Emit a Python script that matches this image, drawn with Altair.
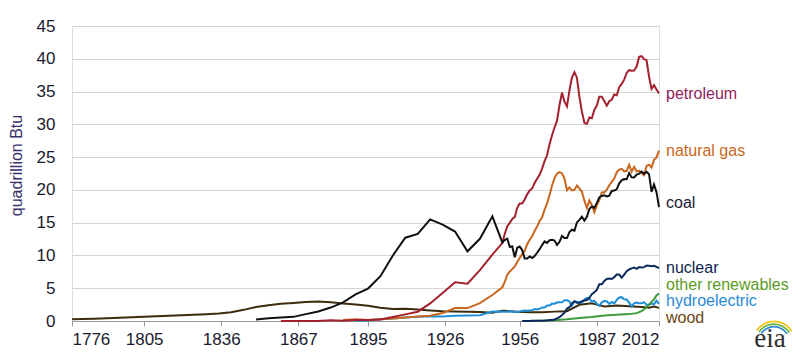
import altair as alt
import pandas as pd

# ---------------- data (quadrillion Btu) ----------------
wood_years = [1776, 1780, 1785, 1790, 1795, 1800, 1805, 1810, 1815, 1820, 1825, 1830, 1835,
              1840, 1845, 1850, 1855, 1860, 1865, 1870, 1875, 1880, 1885, 1890, 1895, 1900,
              1905, 1910, 1915, 1920, 1925, 1930, 1935, 1940, 1945, 1949, 1950, 1955, 1960,
              1965, 1970, 1975, 1980, 1985, 1990, 1995, 2000, 2005, 2008, 2010, 2012]
wood_vals = [0.25, 0.30, 0.36, 0.43, 0.50, 0.58, 0.65, 0.72, 0.80, 0.88, 0.96, 1.04, 1.14,
             1.35, 1.70, 2.14, 2.40, 2.64, 2.76, 2.89, 2.97, 2.85, 2.68, 2.52, 2.31, 2.02,
             1.84, 1.86, 1.76, 1.61, 1.50, 1.46, 1.42, 1.36, 1.26, 1.55, 1.56, 1.42, 1.32,
             1.34, 1.43, 1.50, 2.48, 2.69, 2.22, 2.37, 2.26, 2.14, 2.04, 2.20, 2.00]

coal_years = [1850, 1855, 1860, 1865, 1870, 1875, 1880, 1885, 1890, 1895, 1900, 1905, 1910,
              1915, 1920, 1925, 1930, 1935, 1940, 1945] + list(range(1949, 2013))
coal_vals = [0.22, 0.42, 0.52, 0.63, 1.05, 1.44, 2.05, 2.84, 4.06, 4.95, 6.84, 10.00, 12.71,
             13.29, 15.50, 14.71, 13.64, 10.63, 12.54, 15.97,
             11.98, 12.35, 12.55, 11.31, 11.37, 9.72, 11.17, 11.35, 10.82, 9.53, 9.52,
             9.84, 9.62, 9.91, 10.41, 10.96, 11.58, 12.14, 11.91, 12.33, 12.38, 12.27,
             11.60, 12.08, 12.97, 12.66, 12.66, 13.58, 13.92, 13.77, 15.04, 15.42, 15.91,
             15.32, 15.89, 17.07, 17.48, 17.26, 18.01, 18.85, 19.07, 19.17, 18.99, 19.12,
             19.84, 19.91, 20.09, 21.00, 21.45, 21.66, 21.62, 22.58, 21.91, 21.90, 22.32,
             22.47, 22.80, 22.45, 22.75, 22.39, 19.69, 20.83, 19.66, 17.38]

petroleum_years = [1860, 1865, 1870, 1875, 1880, 1885, 1890, 1895, 1900, 1905, 1910, 1915,
                   1920, 1925, 1930, 1935, 1940, 1945] + list(range(1949, 2013))
petroleum_vals = [0.00, 0.01, 0.01, 0.01, 0.10, 0.04, 0.16, 0.17, 0.23, 0.61, 1.01, 1.42,
                  2.68, 4.28, 5.90, 5.68, 7.76, 10.11,
                  11.88, 13.32, 14.43, 14.96, 15.56, 15.84, 17.26, 17.94, 17.93, 18.53, 19.32,
                  19.92, 20.22, 21.05, 21.70, 22.30, 23.25, 24.40, 25.28, 26.98, 28.34, 29.52,
                  30.56, 32.95, 34.84, 33.46, 32.73, 35.18, 37.12, 37.97, 37.12, 34.20, 31.93,
                  30.23, 30.05, 31.05, 30.92, 32.20, 32.87, 34.22, 34.21, 33.55, 32.85, 33.53,
                  33.75, 34.56, 34.44, 35.68, 36.16, 36.82, 37.84, 38.26, 38.19, 38.22, 38.81,
                  40.29, 40.39, 39.96, 39.77, 37.28, 35.40, 35.97, 35.30, 34.70]

gas_years = [1885, 1890, 1895, 1900, 1905, 1910, 1915, 1920, 1925, 1930, 1935, 1940,
             1945] + list(range(1949, 2013))
gas_vals = [0.14, 0.26, 0.15, 0.25, 0.37, 0.54, 0.67, 0.81, 1.21, 1.97, 1.97, 2.73, 3.97,
            5.15, 5.97, 7.05, 7.55, 7.91, 8.33, 9.00, 9.61, 10.19, 10.66, 11.72, 12.39,
            12.93, 13.73, 14.40, 15.29, 15.77, 17.00, 17.95, 19.21, 20.68, 21.80, 22.47,
            22.70, 22.51, 21.73, 19.95, 20.35, 19.93, 20.00, 20.67, 20.24, 19.75, 18.36,
            17.22, 18.39, 17.70, 16.59, 17.64, 18.45, 19.60, 19.60, 20.03, 20.71, 21.23,
            21.73, 22.67, 23.09, 23.22, 22.83, 22.91, 23.82, 22.77, 23.51, 22.83, 22.92,
            22.57, 22.24, 23.66, 23.84, 23.42, 24.58, 24.96, 26.00]

hydro_years = [1890, 1895, 1900, 1905, 1910, 1915, 1920, 1925, 1930, 1935, 1940,
               1945] + list(range(1949, 2013))
hydro_vals = [0.02, 0.09, 0.25, 0.39, 0.54, 0.66, 0.74, 0.67, 0.79, 0.83, 0.88, 1.44,
              1.43, 1.42, 1.42, 1.47, 1.41, 1.36, 1.36, 1.44, 1.52, 1.59, 1.55, 1.61, 1.66,
              1.82, 1.77, 1.89, 2.06, 2.06, 2.35, 2.35, 2.65, 2.63, 2.82, 2.86, 2.86, 3.18,
              3.16, 2.98, 2.33, 2.94, 2.93, 2.90, 2.76, 3.27, 3.53, 3.39, 2.97, 3.07, 2.64,
              2.33, 2.84, 3.05, 3.02, 2.62, 2.89, 2.68, 3.21, 3.59, 3.64, 3.30, 3.27, 2.81,
              2.24, 2.69, 2.83, 2.69, 2.70, 2.87, 2.45, 2.51, 2.67, 2.54, 3.10, 2.63]

nuclear_years = list(range(1957, 2013))
nuclear_vals = [0.00, 0.00, 0.00, 0.01, 0.02, 0.03, 0.04, 0.04, 0.04, 0.06, 0.09, 0.14,
                0.15, 0.24, 0.41, 0.58, 0.91, 1.27, 1.90, 2.11, 2.70, 3.02, 2.78, 2.74,
                3.01, 3.13, 3.20, 3.55, 4.08, 4.38, 4.75, 5.59, 5.60, 6.10, 6.42, 6.48,
                6.41, 6.69, 7.08, 7.09, 6.60, 7.07, 7.61, 7.86, 8.03, 8.15, 7.96, 8.22,
                8.16, 8.22, 8.46, 8.43, 8.36, 8.43, 8.27, 8.06]

other_years = [1957, 1960, 1965, 1970, 1975, 1980, 1985, 1990, 1995, 2000, 2003, 2005,
               2006, 2007, 2008, 2009, 2010, 2011, 2012]
other_vals = [0.00, 0.01, 0.04, 0.10, 0.25, 0.45, 0.60, 0.85, 0.95, 1.05, 1.20, 1.50,
              1.80, 2.10, 2.50, 2.90, 3.30, 3.90, 4.20]

sources = ["petroleum", "natural gas", "coal", "nuclear", "other renewables",
           "hydroelectric", "wood"]
line_colors = ["#a3202f", "#c9661e", "#111111", "#0e2a5c", "#3c9a3a", "#1e8fd6", "#3d2c0e"]
label_colors = ["#8e1d5c", "#c9661e", "#1c1c36", "#0e1f50", "#5d9b24", "#2a8ad4", "#6b4411"]
label_y = [34.6, 26.0, 18.0, 8.1, 5.5, 3.0, 0.4]

x_ticks = [1776, 1805, 1836, 1867, 1895, 1926, 1956, 1987, 2012]
y_ticks = [0, 5, 10, 15, 20, 25, 30, 35, 40, 45]

# logo swoosh colours (decoration)
logo_colors = ["#f0c419", "#6cb33f", "#2a8ad4"]
logo_outer = [21.5, 18.8, 16.2]
logo_inner = [19.8, 17.1, 14.5]

series = {
    "petroleum": (petroleum_years, petroleum_vals),
    "natural gas": (gas_years, gas_vals),
    "coal": (coal_years, coal_vals),
    "nuclear": (nuclear_years, nuclear_vals),
    "other renewables": (other_years, other_vals),
    "hydroelectric": (hydro_years, hydro_vals),
    "wood": (wood_years, wood_vals),
}

rows = []
for name in ["wood", "hydroelectric", "other renewables", "nuclear", "natural gas",
             "petroleum", "coal"]:
    ys, vs = series[name]
    for yr, v in zip(ys, vs):
        rows.append({"source": name, "year": yr, "value": v})
df = pd.DataFrame(rows)

labels_df = pd.DataFrame({"source": sources, "year": [2012] * len(sources), "value": label_y})

FONT = "Liberation Sans"

x_scale = alt.Scale(domain=[1776, 2012], nice=False, zero=False)
y_scale = alt.Scale(domain=[0, 45], nice=False)

x_axis = alt.Axis(values=x_ticks, format="d", grid=False, title=None,
                  domainColor="#9a9a9a", tickColor="#9a9a9a", tickSize=5,
                  labelFontSize=17, labelColor="#1a1a2e", labelPadding=5,
                  labelFont=FONT, labelOverlap=False)
y_axis = alt.Axis(values=y_ticks, grid=True, gridColor="#d4d4d4",
                  domain=False, ticks=False, labelFontSize=17, labelColor="#1a1a2e",
                  labelPadding=17, labelFont=FONT, labelOverlap=False,
                  title="quadrillion Btu",
                  titleFontSize=16, titleFontWeight="normal", titleColor="#35306a",
                  titleFont=FONT, titleX=-48, titleY=139)

lines = alt.Chart(df).mark_line(strokeWidth=2).encode(
    x=alt.X("year:Q", scale=x_scale, axis=x_axis),
    y=alt.Y("value:Q", scale=y_scale, axis=y_axis),
    color=alt.Color("source:N", scale=alt.Scale(domain=sources, range=line_colors),
                    legend=None),
    detail="source:N",
)

labels = alt.Chart(labels_df).mark_text(align="left", baseline="middle", dx=7,
                                        fontSize=16, font=FONT).encode(
    x=alt.X("year:Q", scale=x_scale, axis=x_axis),
    y=alt.Y("value:Q", scale=y_scale, axis=y_axis),
    text="source:N",
    color=alt.Color("source:N", scale=alt.Scale(domain=sources, range=label_colors),
                    legend=None),
)

logo_text = alt.Chart(pd.DataFrame({"t": ["eia"]})).mark_text(
    fontSize=27, font="Liberation Serif", color="#2e2e2e", align="center",
    baseline="alphabetic").encode(text="t:N", x=alt.value(698), y=alt.value(321))

logo_arcs = alt.Chart(pd.DataFrame({"c": logo_colors, "r": logo_outer,
                                    "r2": logo_inner})).mark_arc(
    theta=5.3, theta2=7.3).encode(
    x=alt.value(702), y=alt.value(316),
    radius=alt.Radius("r:Q", scale=None),
    radius2=alt.Radius2("r2:Q"),
    color=alt.Color("c:N", scale=None),
)

chart = alt.layer(lines, labels, logo_arcs, logo_text).resolve_scale(
    color="independent").properties(
    width=587, height=295,
    autosize=alt.AutoSizeParams(type="none"),
    padding={"left": 72, "top": 26, "right": 141, "bottom": 33},
).configure_view(stroke="transparent", strokeWidth=0).configure(background="white")

chart.save("out.html", embed_options={"renderer": "svg", "actions": False})
